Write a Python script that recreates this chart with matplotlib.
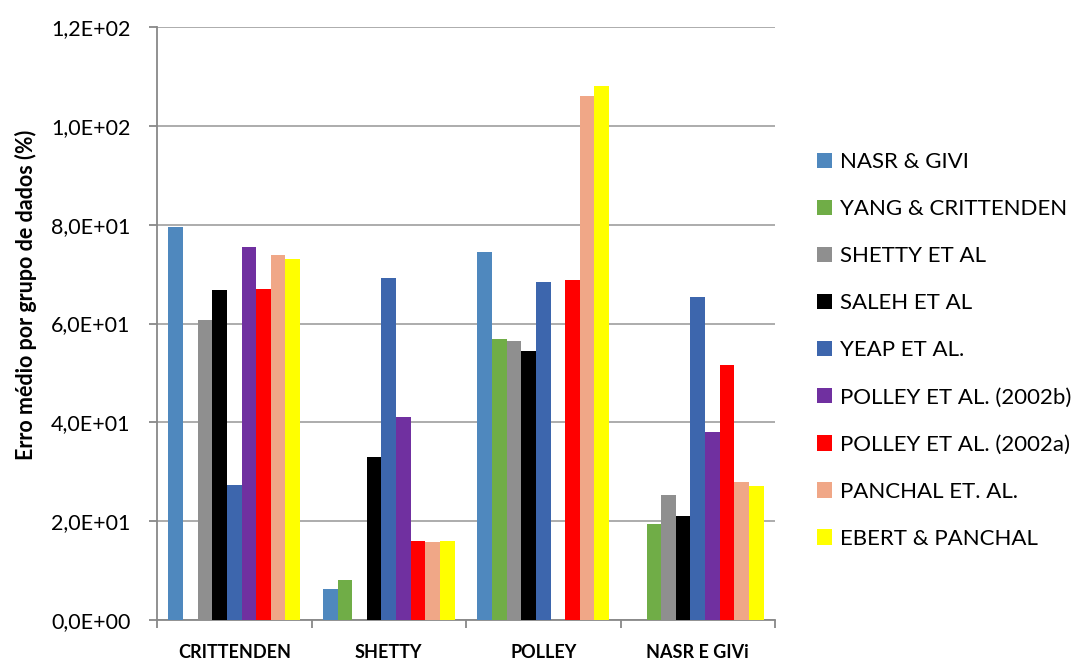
import numpy as np
from matplotlib import pyplot as plt
from matplotlib.ticker import FuncFormatter, FixedLocator

categories = ['CRITTENDEN', 'SHETTY', 'POLLEY', 'NASR E GIVi']
series = ['NASR & GIVI', 'YANG & CRITTENDEN', 'SHETTY ET AL', 'SALEH ET AL',
          'YEAP ET AL.', 'POLLEY ET AL. (2002b)', 'POLLEY ET AL. (2002a)',
          'PANCHAL ET. AL.', 'EBERT & PANCHAL']

nasr_givi = [79.5, 6.3, 74.5, 0]
yang_crittenden = [0, 8.0, 56.9, 19.4]
shetty = [60.7, 0, 56.5, 25.2]
saleh = [66.7, 32.9, 54.5, 21.0]
yeap = [27.3, 69.2, 68.5, 65.4]
polley_b = [75.5, 41.0, 0, 38.1]
polley_a = [66.9, 16.0, 68.9, 51.6]
panchal = [73.8, 15.8, 106.1, 28.0]
ebert_panchal = [73.1, 16.0, 108.1, 27.2]

values = [nasr_givi, yang_crittenden, shetty, saleh, yeap,
          polley_b, polley_a, panchal, ebert_panchal]
colors = ['#4F88BE', '#70AD47', '#8F8F8F', '#000000', '#3D66AD',
          '#7030A0', '#FF0000', '#F0A787', '#FFFF00']

plt.rcParams['font.family'] = ['Lato', 'DejaVu Sans']

fig = plt.figure(figsize=(10.8, 6.62), dpi=100)
ax = fig.add_axes([0.1454, 0.0634, 0.5722, 0.8958])

x = np.arange(len(categories))
n = len(series)
w = 0.0947
for i, (name, vals, c) in enumerate(zip(series, values, colors)):
    ax.bar(x + (i - (n - 1) / 2) * w, vals, w, color=c, label=name, zorder=3)

ax.set_xlim(-0.5, len(categories) - 0.5)
ax.set_ylim(0, 120)
ax.set_yticks(np.arange(0, 121, 20))
ax.yaxis.set_major_formatter(FuncFormatter(lambda v, p: f'{v:.1E}'.replace('.', ',')))
ax.grid(axis='y', color='#A6A6A6', linewidth=1.3, zorder=0)

ax.set_xticks(x)
ax.set_xticklabels(categories, fontweight='bold', fontsize=13)
ax.xaxis.set_minor_locator(FixedLocator(np.arange(-0.5, len(categories), 1)))
ax.tick_params(axis='x', which='major', length=0, pad=17)
ax.tick_params(axis='x', which='minor', length=6, color='#888888', width=1.3)
ax.tick_params(axis='y', length=6, color='#888888', width=1.3, labelsize=15.5, pad=13)

for s in ['top', 'right']:
    ax.spines[s].set_visible(False)
for s in ['left', 'bottom']:
    ax.spines[s].set_color('#888888')
    ax.spines[s].set_linewidth(1.3)

fig.text(0.024, 0.554, 'Erro médio por grupo de dados (%)', rotation=90,
         ha='center', va='center', fontweight='bold', fontsize=15.5)

ax.legend(loc='center left', bbox_to_anchor=(0.738, 0.4706), bbox_transform=fig.transFigure,
          frameon=False, fontsize=16, labelspacing=1.22, handlelength=0.68,
          handleheight=0.68, handletextpad=0.36)

fig.savefig('out.png', dpi=100)
